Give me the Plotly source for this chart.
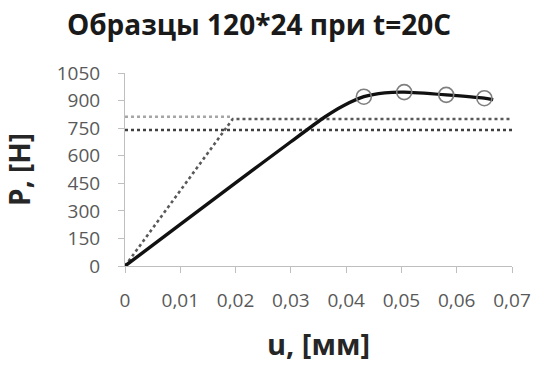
import plotly.graph_objects as go

# Load–displacement curve (displacement u in mm, load P in N)
u_curve = [0.0, 0.01, 0.02, 0.03, 0.036, 0.0395, 0.0432, 0.047, 0.0505, 0.0581, 0.0650, 0.0666]
p_curve = [0, 226, 452, 676, 808, 872, 921, 942, 946, 931, 913, 905]

# Points marked with circles on the curve
u_marks = [0.0432, 0.0505, 0.0581, 0.0650]
p_marks = [921, 946, 931, 913]

# Idealised bilinear diagram
u_bilin = [0.0, 0.0195, 0.07]
p_bilin = [0, 800, 800]

# Horizontal reference levels
u_level_upper = [0.0, 0.0195]
p_level_upper = [812, 812]
u_level_lower = [0.0, 0.07]
p_level_lower = [740, 740]

x_tickvals = [0, 0.01, 0.02, 0.03, 0.04, 0.05, 0.06, 0.07]
x_ticktext = ["0", "0,01", "0,02", "0,03", "0,04", "0,05", "0,06", "0,07"]
y_tickvals = [0, 150, 300, 450, 600, 750, 900, 1050]
y_ticktext = ["0", "150", "300", "450", "600", "750", "900", "1050"]

FONT = "Open Sans"

fig = go.Figure()

fig.add_trace(go.Scatter(
    x=u_level_upper, y=p_level_upper, mode="lines",
    line=dict(color="#a6a6a6", width=2.4, dash="dot"),
    showlegend=False, hoverinfo="skip"))
fig.add_trace(go.Scatter(
    x=u_level_lower, y=p_level_lower, mode="lines",
    line=dict(color="#404040", width=2.6, dash="dot"),
    showlegend=False, hoverinfo="skip"))
fig.add_trace(go.Scatter(
    x=u_bilin, y=p_bilin, mode="lines",
    line=dict(color="#595959", width=2.6, dash="dot"),
    showlegend=False, hoverinfo="skip"))
fig.add_trace(go.Scatter(
    x=u_curve, y=p_curve, mode="lines",
    line=dict(color="#111111", width=3.4, shape="spline", smoothing=0.5),
    showlegend=False))
fig.add_trace(go.Scatter(
    x=u_marks, y=p_marks, mode="markers",
    marker=dict(symbol="circle-open", size=15, color="#7f7f7f",
                line=dict(width=1.6, color="#7f7f7f")),
    showlegend=False))

fig.update_layout(
    width=543, height=367,
    margin=dict(l=125, r=24, t=73, b=100),
    paper_bgcolor="white", plot_bgcolor="white",
    font=dict(family=FONT, color="#595959"),
    title=dict(text="<b>Образцы 120*24 при t=20С</b>",
               x=0.477, xanchor="center", y=0.932, yanchor="middle",
               xref="container", yref="container",
               font=dict(family=FONT, size=28, color="#1a1a1a")),
)
fig.update_xaxes(
    range=[0, 0.07], tickvals=x_tickvals, ticktext=x_ticktext,
    showgrid=False, zeroline=False,
    showline=True, linecolor="#bfbfbf", linewidth=1,
    ticks="outside", ticklen=6, tickcolor="#bfbfbf",
    ticklabelstandoff=11,
    tickfont=dict(family=FONT, size=19, color="#595959"),
    title=dict(text="<b>u, [мм]</b>", standoff=22,
               font=dict(family=FONT, size=29, color="#262626")),
)
fig.update_yaxes(
    range=[0, 1050], tickvals=y_tickvals, ticktext=y_ticktext,
    showgrid=False, zeroline=False,
    showline=True, linecolor="#bfbfbf", linewidth=1,
    ticks="outside", ticklen=6, tickcolor="#bfbfbf",
    ticklabelstandoff=14,
    tickfont=dict(family=FONT, size=19, color="#595959"),
    title=dict(text="<b>P, [Н]</b>", standoff=17,
               font=dict(family=FONT, size=28, color="#262626")),
)

fig.write_html("out.html")
